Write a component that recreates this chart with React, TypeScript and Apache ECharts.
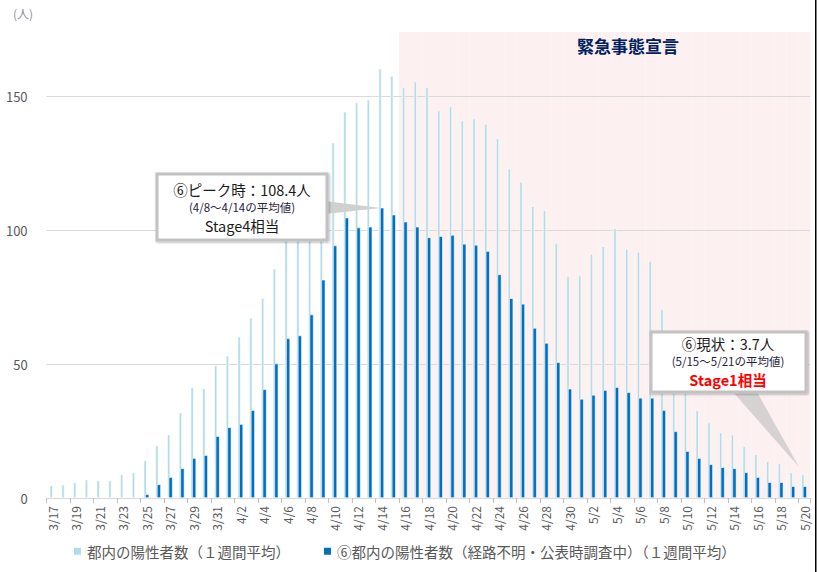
import React, { useEffect, useRef } from 'react';
import * as echarts from 'echarts';

const FONT = '"Noto Sans CJK JP", "Noto Sans", sans-serif';

const dates = [
  '3/17', '3/18', '3/19', '3/20', '3/21', '3/22', '3/23', '3/24', '3/25', '3/26', '3/27', '3/28', '3/29', '3/30', '3/31',
  '4/1', '4/2', '4/3', '4/4', '4/5', '4/6', '4/7', '4/8', '4/9', '4/10', '4/11', '4/12', '4/13', '4/14', '4/15',
  '4/16', '4/17', '4/18', '4/19', '4/20', '4/21', '4/22', '4/23', '4/24', '4/25', '4/26', '4/27', '4/28', '4/29', '4/30',
  '5/1', '5/2', '5/3', '5/4', '5/5', '5/6', '5/7', '5/8', '5/9', '5/10', '5/11', '5/12', '5/13', '5/14', '5/15',
  '5/16', '5/17', '5/18', '5/19', '5/20',
];

// 都内の陽性者数（１週間平均）
const totalAvg = [
  4.7, 5.0, 5.8, 6.9, 6.5, 6.5, 8.8, 9.5, 14.0, 19.6, 23.7, 31.9, 41.2, 40.9, 49.5,
  53.1, 60.2, 67.3, 74.7, 85.6, 98.0, 106.0, 112.0, 118.0, 132.7, 144.2, 147.7, 148.7, 160.3, 157.6,
  153.3, 155.5, 153.3, 144.7, 146.2, 141.0, 141.7, 139.7, 134.3, 123.0, 118.0, 109.0, 107.5, 95.2, 82.9,
  83.1, 91.1, 94.0, 100.7, 93.0, 91.9, 88.5, 70.6, 55.0, 42.0, 32.7, 28.2, 24.5, 23.7, 19.3,
  16.3, 13.7, 12.9, 9.6, 8.8,
];

// ⑥都内の陽性者数（経路不明・公表時調査中）（１週間平均）
const unknownAvg = [
  null, null, null, null, null, null, null, null, 1.4, 5.1, 7.8, 11.1, 14.9, 16.0, 23.1,
  26.4, 27.6, 32.8, 40.6, 50.2, 59.6, 60.7, 68.5, 81.5, 94.3, 104.7, 101.0, 101.3, 108.4, 105.8,
  103.2, 101.3, 97.3, 97.8, 98.2, 94.9, 94.5, 92.2, 83.5, 74.6, 72.5, 63.5, 57.9, 50.7, 40.8,
  37.0, 38.5, 40.3, 41.4, 39.5, 37.4, 37.4, 32.8, 24.9, 17.5, 14.9, 12.6, 11.5, 11.1, 9.6,
  7.8, 5.9, 5.9, 4.4, 4.4,
];

const yMax = 174;
const yStep = 50;
const emergencyStart = '4/16';
const emergencyLabel = '緊急事態宣言';

const lightName = '都内の陽性者数（１週間平均）';
const darkName = '⑥都内の陽性者数（経路不明・公表時調査中）（１週間平均）';

export default function App() {
  const ref = useRef<HTMLDivElement>(null);

  useEffect(() => {
    if (!ref.current) return;
    const chart = echarts.init(ref.current, null, { renderer: 'svg' });
    const startIdx = dates.indexOf(emergencyStart);
    const emergency = dates.map((_, i) => (i >= startIdx ? yMax : null));

    const option: any = {
      animation: false,
      textStyle: { fontFamily: FONT },
      grid: { left: 46.6, right: 9, top: 32, bottom: 74, containLabel: false },
      legend: {
        data: [lightName, darkName],
        left: 72,
        top: 544,
        padding: 0,
        icon: 'rect',
        itemWidth: 9,
        itemHeight: 9,
        itemGap: 32,
        selectedMode: false,
        textStyle: { fontSize: 14.5, color: '#595959', fontFamily: FONT },
      },
      xAxis: [
        {
          type: 'category',
          data: dates,
          boundaryGap: true,
          axisLine: { show: true, lineStyle: { color: '#d9d9d9', width: 1 } },
          axisTick: { show: true, interval: 1, length: 5, lineStyle: { color: '#bfbfbf' } },
          axisLabel: { interval: 1, rotate: 90, fontSize: 12, color: '#595959', margin: 8, fontFamily: FONT },
          splitLine: { show: false },
          z: 1,
        },
        {
          type: 'category',
          data: dates,
          boundaryGap: true,
          show: false,
        },
      ],
      yAxis: {
        type: 'value',
        min: 0,
        max: yMax,
        interval: yStep,
        axisLine: { show: false },
        axisTick: { show: false },
        axisLabel: {
          fontSize: 13,
          color: '#595959',
          margin: 19,
          fontFamily: FONT,
          formatter: (v: number) => (v % yStep === 0 ? String(v) : ''),
        },
        splitLine: { show: true, showMaxLine: false, showMinLine: false, lineStyle: { color: '#d9d9d9', width: 1 } },
      },
      series: [
        {
          type: 'bar',
          name: 'emergency',
          xAxisIndex: 1,
          data: emergency,
          barWidth: '100%',
          itemStyle: { color: '#fdf0f0' },
          z: -1,
          silent: true,
        },
        {
          type: 'bar',
          name: lightName,
          data: totalAvg,
          barWidth: 3,
          barGap: '-50%',
          itemStyle: { color: '#b4dce6', borderColor: '#ffffff', borderWidth: 0.6 },
          z: 2,
        },
        {
          type: 'bar',
          name: darkName,
          data: unknownAvg,
          barWidth: 4,
          barGap: '-50%',
          itemStyle: { color: '#0070c0', borderColor: '#ffffff', borderWidth: 0.6 },
          z: 3,
        },
      ],
      graphic: [
        {
          type: 'text',
          x: 23,
          y: 13,
          style: { text: '(人)', fill: '#8a8f99', fontSize: 12, fontFamily: FONT, align: 'center', verticalAlign: 'middle' },
        },
        {
          type: 'text',
          x: 628,
          y: 45,
          style: { text: emergencyLabel, fill: '#002060', fontSize: 17, fontWeight: 'bold', fontFamily: FONT, align: 'center', verticalAlign: 'middle' },
        },
        // callout 1
        {
          type: 'polygon',
          shape: { points: [[325, 201], [325, 214], [381, 208]] },
          style: { fill: '#d0d0d0' },
          z: 10,
        },
        {
          type: 'rect',
          shape: { x: 157, y: 174, width: 170, height: 66 },
          style: { fill: '#ffffff', stroke: '#c2c2c2', lineWidth: 3, shadowBlur: 2, shadowColor: 'rgba(0,0,0,0.3)', shadowOffsetX: 1, shadowOffsetY: 1 },
          z: 11,
        },
        {
          type: 'text',
          x: 242,
          y: 189,
          style: { text: '⑥ピーク時：108.4人', fill: '#1a1a1a', fontSize: 14.5, fontFamily: FONT, align: 'center', verticalAlign: 'middle' },
          z: 12,
        },
        {
          type: 'text',
          x: 242,
          y: 207,
          style: { text: '(4/8～4/14の平均値)', fill: '#1f2340', fontSize: 11.5, fontFamily: FONT, align: 'center', verticalAlign: 'middle' },
          z: 12,
        },
        {
          type: 'text',
          x: 242,
          y: 225,
          style: { text: 'Stage4相当', fill: '#1a1a1a', fontSize: 14.5, fontFamily: FONT, align: 'center', verticalAlign: 'middle' },
          z: 12,
        },
        // callout 2
        {
          type: 'polygon',
          shape: { points: [[733, 392], [757, 392], [799, 467]] },
          style: { fill: 'rgba(190,190,190,0.6)' },
          z: 10,
        },
        {
          type: 'rect',
          shape: { x: 651, y: 332, width: 155, height: 60 },
          style: { fill: '#ffffff', stroke: '#c2c2c2', lineWidth: 3, shadowBlur: 2, shadowColor: 'rgba(0,0,0,0.3)', shadowOffsetX: 1, shadowOffsetY: 1 },
          z: 11,
        },
        {
          type: 'text',
          x: 728,
          y: 343,
          style: { text: '⑥現状：3.7人', fill: '#1a1a1a', fontSize: 14.5, fontFamily: FONT, align: 'center', verticalAlign: 'middle' },
          z: 12,
        },
        {
          type: 'text',
          x: 728,
          y: 361,
          style: { text: '(5/15～5/21の平均値)', fill: '#1f2340', fontSize: 11.5, fontFamily: FONT, align: 'center', verticalAlign: 'middle' },
          z: 12,
        },
        {
          type: 'text',
          x: 728,
          y: 379,
          style: { text: 'Stage1相当', fill: '#ff0000', fontSize: 14.5, fontWeight: 'bold', fontFamily: FONT, align: 'center', verticalAlign: 'middle' },
          z: 12,
        },
        {
          type: 'rect',
          shape: { x: 815, y: 0, width: 1.5, height: 572 },
          style: { fill: '#000000' },
          z: 20,
        },
      ],
    };

    chart.setOption(option);
    return () => chart.dispose();
  }, []);

  return (
    <div
      ref={ref}
      style={{ position: 'fixed', left: 0, top: 0, width: 819, height: 572, background: '#ffffff' }}
    />
  );
}
